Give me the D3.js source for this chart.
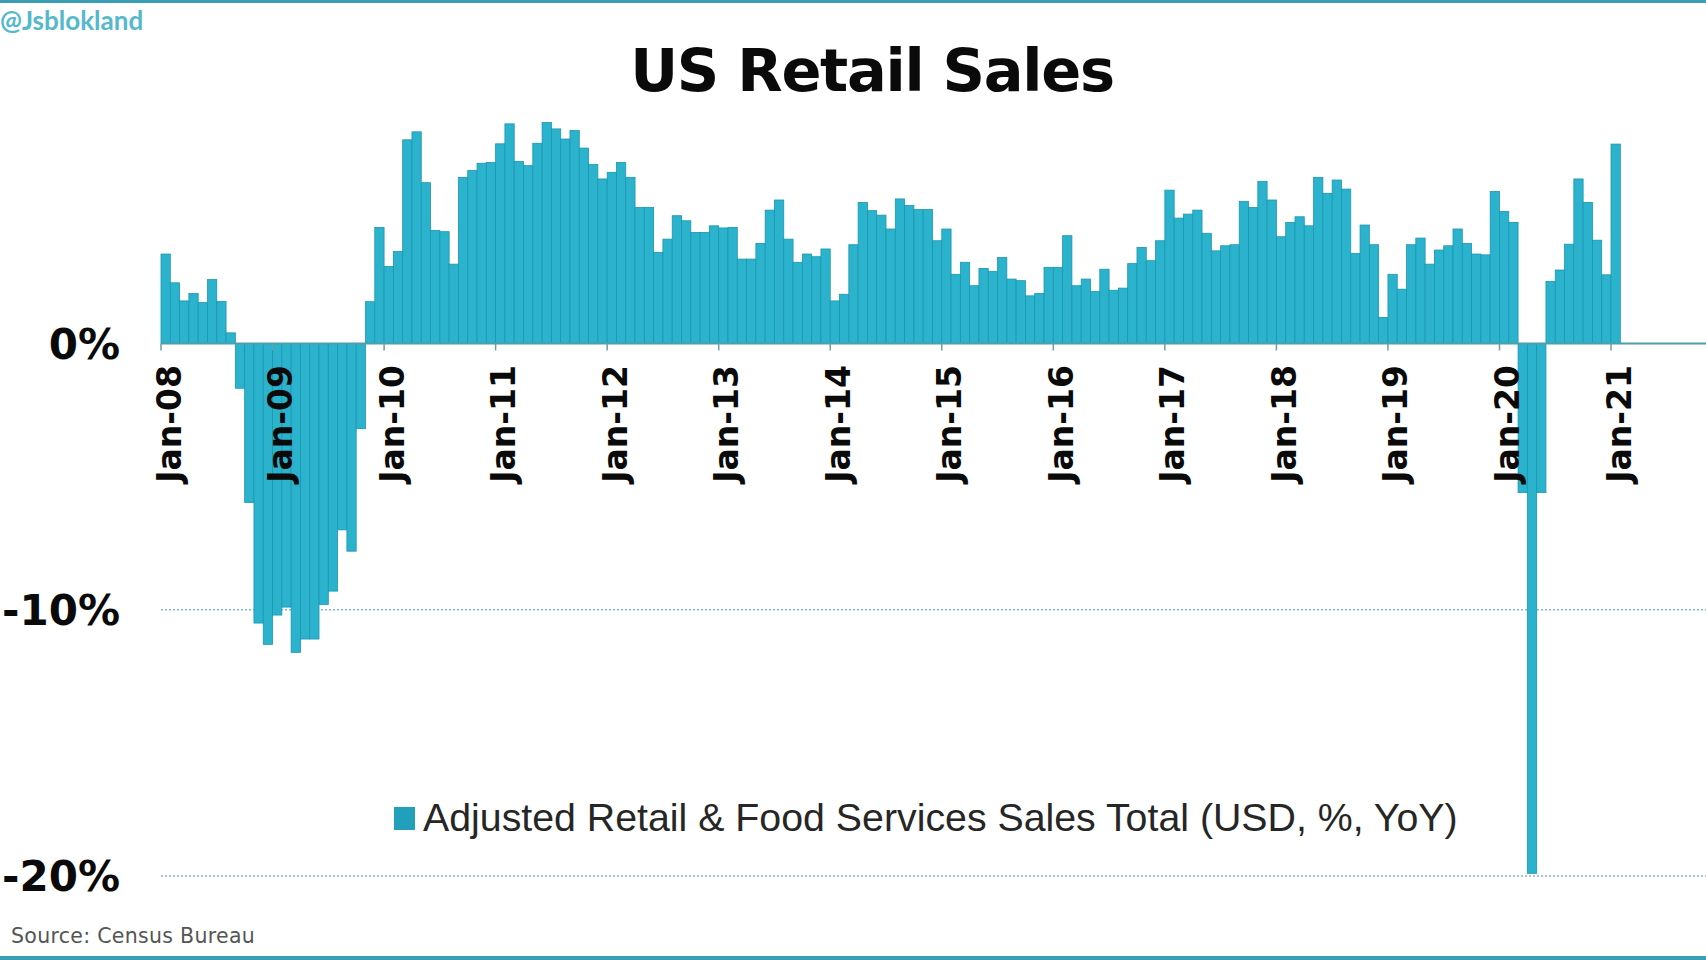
<!DOCTYPE html>
<html>
<head>
<meta charset="utf-8">
<script src="https://cdn.jsdelivr.net/npm/d3@7"></script>
<style>
  html, body { margin: 0; padding: 0; background: #ffffff; }
  svg { display: block; }
</style>
</head>
<body>
<svg id="chart" width="1706" height="960"></svg>
<script>
// ---------------- DATA ----------------
const startMonth = "2008-01";
const values2008 = [3.36, 2.28, 1.60, 1.88, 1.54, 2.40, 1.58, 0.40, -1.68, -5.97, -10.5, -11.3];
const values2009 = [-10.2, -9.9, -11.6, -11.1, -11.1, -9.8, -9.3, -7.0, -7.8, -3.2, 1.57, 4.36];
const values2010 = [2.89, 3.46, 7.65, 7.95, 6.04, 4.25, 4.2, 2.98, 6.24, 6.5, 6.77, 6.8];
const values2011 = [7.5, 8.25, 6.84, 6.68, 7.52, 8.3, 8.06, 7.68, 8.0, 7.34, 6.72, 6.18];
const values2012 = [6.43, 6.8, 6.24, 5.11, 5.11, 3.42, 3.92, 4.8, 4.61, 4.17, 4.17, 4.42];
const values2013 = [4.34, 4.36, 3.17, 3.17, 3.76, 5.01, 5.39, 3.92, 3.05, 3.36, 3.26, 3.55];
const values2014 = [1.6, 1.85, 3.71, 5.3, 4.99, 4.82, 4.3, 5.43, 5.18, 5.03, 5.03, 3.86];
const values2015 = [4.3, 2.6, 3.05, 2.17, 2.82, 2.71, 3.23, 2.42, 2.36, 1.79, 1.88, 2.86];
const values2016 = [2.86, 4.05, 2.17, 2.42, 1.95, 2.79, 2.0, 2.08, 3.0, 3.61, 3.11, 3.86];
const values2017 = [5.76, 4.71, 4.86, 5.01, 4.14, 3.48, 3.67, 3.71, 5.34, 5.11, 6.09, 5.39];
const values2018 = [4.01, 4.55, 4.76, 4.42, 6.24, 5.64, 6.14, 5.8, 3.38, 4.45, 3.71, 0.98];
const values2019 = [2.6, 2.04, 3.71, 3.96, 2.98, 3.51, 3.67, 4.3, 3.76, 3.36, 3.33, 5.71];
const values2020 = [4.96, 4.55, -5.6, -19.9, -5.6, 2.33, 2.76, 3.73, 6.18, 5.3, 3.88, 2.58];
const values2021 = [7.49];

const yTickValues = [0, -10, -20];
const yTickLabels = ["0%", "-10%", "-20%"];
const gridValues = [-10, -20];
const xTickLabels = ["Jan-08","Jan-09","Jan-10","Jan-11","Jan-12","Jan-13","Jan-14",
                     "Jan-15","Jan-16","Jan-17","Jan-18","Jan-19","Jan-20","Jan-21"];

const titleText = "US Retail Sales";
const handleText = "@Jsblokland";
const legendText = "Adjusted Retail & Food Services Sales Total (USD, %, YoY)";
const sourceText = "Source: Census Bureau";

// ---------------- BUILD ----------------
const allValues = [].concat(values2008, values2009, values2010, values2011, values2012,
  values2013, values2014, values2015, values2016, values2017, values2018, values2019,
  values2020, values2021);
const parse = d3.timeParse("%Y-%m");
const fmt = d3.timeFormat("%b-%y");
const months = allValues.map((v, i) => d3.timeMonth.offset(parse(startMonth), i));
const data = months.map((m, i) => ({ month: m, key: fmt(m), value: allValues[i] }));

const W = 1706, H = 960;
const left = 161, monthW = 9.295;
const svg = d3.select("#chart");

const BAR = "#2bb3cd";
const BAR_EDGE = "#1b96ae";
const TEAL = "#3a9fb4";

const x = d3.scaleBand()
  .domain(data.map(d => d.key))
  .range([left, left + monthW * data.length])
  .padding(0);

const y = d3.scaleLinear().domain([-20, 0]).range([876, 343.5]);

// frame borders
svg.append("rect").attr("x", 0).attr("y", 0).attr("width", W).attr("height", 3).attr("fill", TEAL);
svg.append("rect").attr("x", 0).attr("y", 956).attr("width", W).attr("height", 4).attr("fill", TEAL);

// handle
svg.append("text").attr("x", 0).attr("y", 30)
  .attr("font-family", "Lato, 'Open Sans', sans-serif").attr("font-size", 26)
  .attr("font-weight", 700)
  .attr("fill", "#55b8cd").text(handleText);

// title
svg.append("text").attr("x", 872).attr("y", 91)
  .attr("text-anchor", "middle")
  .attr("font-family", "'DejaVu Sans', Verdana, sans-serif")
  .attr("font-weight", 700).attr("font-size", 59)
  .attr("letter-spacing", "-1.3px")
  .attr("fill", "#0a0a0a").text(titleText);

// gridlines (dotted)
svg.append("g").selectAll("line").data(gridValues).join("line")
  .attr("x1", left).attr("x2", W)
  .attr("y1", d => y(d)).attr("y2", d => y(d))
  .attr("stroke", "#7fbccb").attr("stroke-width", 1.5)
  .attr("stroke-dasharray", "2,2");

// bars
svg.append("g").selectAll("rect").data(data).join("rect")
  .attr("x", d => x(d.key))
  .attr("width", x.bandwidth())
  .attr("y", d => y(Math.max(0, d.value)))
  .attr("height", d => Math.abs(y(d.value) - y(0)))
  .attr("fill", BAR)
  .attr("stroke", BAR_EDGE)
  .attr("stroke-width", 0.8);

// zero axis line
svg.append("line")
  .attr("x1", left).attr("x2", W)
  .attr("y1", y(0)).attr("y2", y(0))
  .attr("stroke", "#4f9eac").attr("stroke-width", 2);

// x ticks and labels
const janData = data.filter(d => d.month.getMonth() === 0);
const xt = svg.append("g");
xt.selectAll("line").data(janData).join("line")
  .attr("x1", d => x(d.key)).attr("x2", d => x(d.key))
  .attr("y1", y(0)).attr("y2", y(0) + 7)
  .attr("stroke", "#6a9ea8").attr("stroke-width", 1.5);
xt.selectAll("text").data(janData).join("text")
  .attr("transform", d => `translate(${x(d.key) + 19.5},365) rotate(-90)`)
  .attr("text-anchor", "end")
  .attr("font-family", "'DejaVu Sans', Verdana, sans-serif")
  .attr("font-weight", 700).attr("font-size", 33)
  .attr("fill", "#0a0a0a")
  .text((d, i) => xTickLabels[i]);

// y labels
svg.append("g").selectAll("text").data(yTickValues).join("text")
  .attr("x", 120).attr("y", d => y(d) + 15)
  .attr("text-anchor", "end")
  .attr("font-family", "'DejaVu Sans', Verdana, sans-serif")
  .attr("font-weight", 700).attr("font-size", 42)
  .attr("fill", "#0a0a0a")
  .text((d, i) => yTickLabels[i]);

// legend
svg.append("rect").attr("x", 394).attr("y", 807).attr("width", 21).attr("height", 23)
  .attr("fill", "#219fbb");
svg.append("text").attr("x", 423).attr("y", 831)
  .attr("font-family", "'Liberation Sans', Arial, sans-serif")
  .attr("font-size", 39.3).attr("fill", "#262626")
  .text(legendText);

// source
svg.append("text").attr("x", 11).attr("y", 943)
  .attr("font-family", "'DejaVu Sans', Verdana, sans-serif")
  .attr("font-size", 20.5).attr("letter-spacing", "0.3px").attr("fill", "#555555")
  .text(sourceText);
</script>
</body>
</html>
